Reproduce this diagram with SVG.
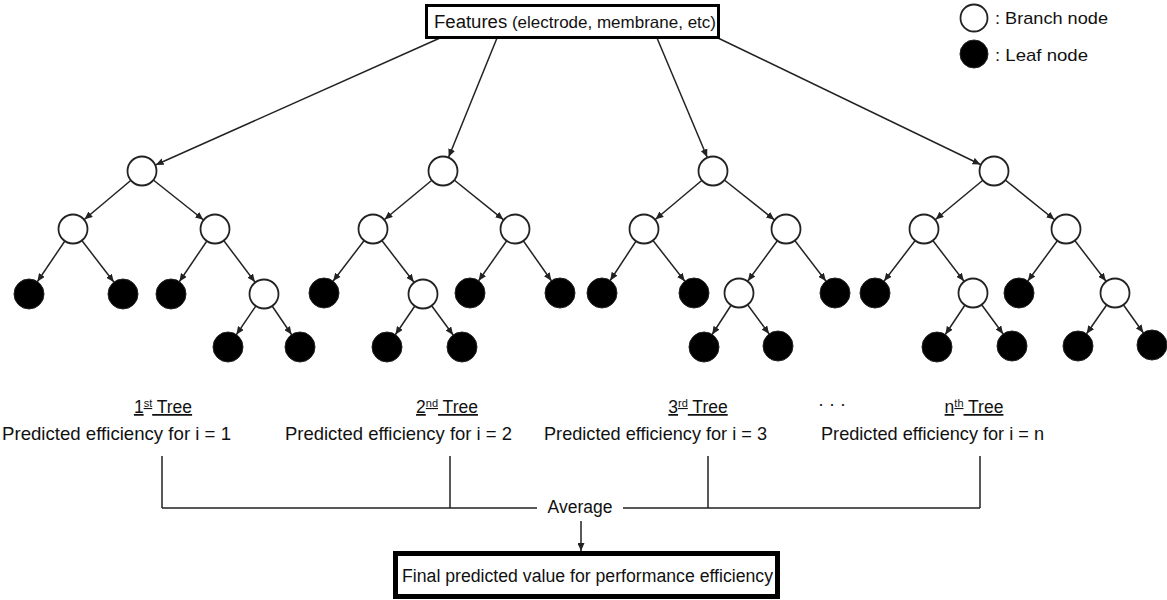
<svg xmlns="http://www.w3.org/2000/svg" width="1167" height="600" viewBox="0 0 1167 600">
<defs>
<style>
.br{fill:#fff;stroke:#222;stroke-width:1.8}
.lf{fill:#000;stroke:#222;stroke-width:1}
.c{stroke:#222;stroke-width:1.5;fill:none;marker-end:url(#ah)}
.p{stroke:#222;stroke-width:1.5;fill:none}
.t{font-family:"Liberation Sans",Arial,sans-serif;fill:#111}
.box{fill:#fff;stroke:#000}
</style>
<marker id="ah" markerUnits="userSpaceOnUse" markerWidth="9" markerHeight="7" refX="23" refY="3.5" orient="auto">
<path d="M0,0 L8,3.5 L0,7 z" fill="#222"/>
</marker>
<marker id="ah0" markerUnits="userSpaceOnUse" markerWidth="9" markerHeight="7" refX="8" refY="3.5" orient="auto">
<path d="M0,0 L8,3.5 L0,7 z" fill="#222"/>
</marker>
</defs>
<rect width="1167" height="600" fill="#fff"/>

<g id="connectors">
<line class="c" x1="440" y1="38" x2="142" y2="171"/>
<line class="c" x1="497" y1="38" x2="443" y2="171"/>
<line class="c" x1="657" y1="38" x2="713" y2="171"/>
<line class="c" x1="718" y1="38" x2="994" y2="171"/>
<!-- tree 1 -->
<line class="c" x1="142" y1="171" x2="73" y2="229"/>
<line class="c" x1="142" y1="171" x2="215" y2="229"/>
<line class="c" x1="73" y1="229" x2="29" y2="294"/>
<line class="c" x1="73" y1="229" x2="123" y2="294"/>
<line class="c" x1="215" y1="229" x2="171" y2="294"/>
<line class="c" x1="215" y1="229" x2="264" y2="294"/>
<line class="c" x1="264" y1="294" x2="228" y2="347"/>
<line class="c" x1="264" y1="294" x2="300" y2="347"/>
<!-- tree 2 -->
<line class="c" x1="443" y1="171" x2="373" y2="229"/>
<line class="c" x1="443" y1="171" x2="515" y2="229"/>
<line class="c" x1="373" y1="229" x2="324" y2="293"/>
<line class="c" x1="373" y1="229" x2="423" y2="294"/>
<line class="c" x1="515" y1="229" x2="470" y2="293"/>
<line class="c" x1="515" y1="229" x2="560" y2="293"/>
<line class="c" x1="423" y1="294" x2="387" y2="347"/>
<line class="c" x1="423" y1="294" x2="462" y2="347"/>
<!-- tree 3 -->
<line class="c" x1="713" y1="171" x2="644" y2="229"/>
<line class="c" x1="713" y1="171" x2="786" y2="229"/>
<line class="c" x1="644" y1="229" x2="602" y2="293"/>
<line class="c" x1="644" y1="229" x2="694" y2="293"/>
<line class="c" x1="786" y1="229" x2="739" y2="293"/>
<line class="c" x1="786" y1="229" x2="835" y2="293"/>
<line class="c" x1="739" y1="293" x2="704" y2="347"/>
<line class="c" x1="739" y1="293" x2="778" y2="346"/>
<!-- tree 4 -->
<line class="c" x1="994" y1="171" x2="924" y2="229"/>
<line class="c" x1="994" y1="171" x2="1066" y2="229"/>
<line class="c" x1="924" y1="229" x2="875" y2="293"/>
<line class="c" x1="924" y1="229" x2="973" y2="293"/>
<line class="c" x1="1066" y1="229" x2="1019" y2="293"/>
<line class="c" x1="1066" y1="229" x2="1115" y2="293"/>
<line class="c" x1="973" y1="293" x2="937" y2="347"/>
<line class="c" x1="973" y1="293" x2="1012" y2="346"/>
<line class="c" x1="1115" y1="293" x2="1078" y2="346"/>
<line class="c" x1="1115" y1="293" x2="1152" y2="345"/>
<!-- averaging bracket -->
<path class="p" d="M162,456 V508 M450,456 V508 M708,456 V508 M980,456 V508 M162,508 H537 M623,508 H980"/>
<line class="p" x1="581" y1="521" x2="581" y2="551" marker-end="url(#ah0)"/>
</g>

<g id="features">
<rect class="box" x="426.5" y="5.5" width="292" height="32" stroke-width="3"/>
<text class="t" x="434" y="28" font-size="16.5" textLength="282" lengthAdjust="spacingAndGlyphs"><tspan font-size="18">Features</tspan> (electrode, membrane, etc)</text>
</g>

<g id="legend">
<g id="legend-branch"><circle class="br" cx="974" cy="18" r="13.5" stroke-width="2"/>
<text class="t" x="995" y="24" font-size="17" textLength="113" lengthAdjust="spacingAndGlyphs">: Branch node</text></g>
<g id="legend-leaf"><circle class="lf" cx="974" cy="54" r="14"/>
<text class="t" x="995" y="61" font-size="17" textLength="93" lengthAdjust="spacingAndGlyphs">: Leaf node</text></g>
</g>

<!-- tree 1 nodes -->
<g id="t1-root"><circle class="br" cx="142" cy="171" r="14.5"/></g>
<g id="t1-a"><circle class="br" cx="73" cy="229" r="14.5"/></g>
<g id="t1-b"><circle class="br" cx="215" cy="229" r="14.5"/></g>
<g id="t1-a1"><circle class="lf" cx="29" cy="294" r="15"/></g>
<g id="t1-a2"><circle class="lf" cx="123" cy="294" r="15"/></g>
<g id="t1-b1"><circle class="lf" cx="171" cy="294" r="15"/></g>
<g id="t1-b2"><circle class="br" cx="264" cy="294" r="14.5"/></g>
<g id="t1-b2a"><circle class="lf" cx="228" cy="347" r="15"/></g>
<g id="t1-b2b"><circle class="lf" cx="300" cy="347" r="15"/></g>

<!-- tree 2 nodes -->
<g id="t2-root"><circle class="br" cx="443" cy="171" r="14.5"/></g>
<g id="t2-a"><circle class="br" cx="373" cy="229" r="14.5"/></g>
<g id="t2-b"><circle class="br" cx="515" cy="229" r="14.5"/></g>
<g id="t2-a1"><circle class="lf" cx="324" cy="293" r="15"/></g>
<g id="t2-a2"><circle class="br" cx="423" cy="294" r="14.5"/></g>
<g id="t2-b1"><circle class="lf" cx="470" cy="293" r="15"/></g>
<g id="t2-b2"><circle class="lf" cx="560" cy="293" r="15"/></g>
<g id="t2-a2a"><circle class="lf" cx="387" cy="347" r="15"/></g>
<g id="t2-a2b"><circle class="lf" cx="462" cy="347" r="15"/></g>

<!-- tree 3 nodes -->
<g id="t3-root"><circle class="br" cx="713" cy="171" r="14.5"/></g>
<g id="t3-a"><circle class="br" cx="644" cy="229" r="14.5"/></g>
<g id="t3-b"><circle class="br" cx="786" cy="229" r="14.5"/></g>
<g id="t3-a1"><circle class="lf" cx="602" cy="293" r="15"/></g>
<g id="t3-a2"><circle class="lf" cx="694" cy="293" r="15"/></g>
<g id="t3-b1"><circle class="br" cx="739" cy="293" r="14.5"/></g>
<g id="t3-b2"><circle class="lf" cx="835" cy="293" r="15"/></g>
<g id="t3-b1a"><circle class="lf" cx="704" cy="347" r="15"/></g>
<g id="t3-b1b"><circle class="lf" cx="778" cy="346" r="15"/></g>

<!-- tree 4 nodes -->
<g id="t4-root"><circle class="br" cx="994" cy="171" r="14.5"/></g>
<g id="t4-a"><circle class="br" cx="924" cy="229" r="14.5"/></g>
<g id="t4-b"><circle class="br" cx="1066" cy="229" r="14.5"/></g>
<g id="t4-a1"><circle class="lf" cx="875" cy="293" r="15"/></g>
<g id="t4-a2"><circle class="br" cx="973" cy="293" r="14.5"/></g>
<g id="t4-b1"><circle class="lf" cx="1019" cy="293" r="15"/></g>
<g id="t4-b2"><circle class="br" cx="1115" cy="293" r="14.5"/></g>
<g id="t4-a2a"><circle class="lf" cx="937" cy="347" r="15"/></g>
<g id="t4-a2b"><circle class="lf" cx="1012" cy="346" r="15"/></g>
<g id="t4-b2a"><circle class="lf" cx="1078" cy="346" r="15"/></g>
<g id="t4-b2b"><circle class="lf" cx="1152" cy="345" r="15"/></g>

<!-- labels -->
<g id="label-1">
<text class="t" x="163" y="413" font-size="17.5" text-anchor="middle" text-decoration="underline">1<tspan font-size="11" dy="-6">st</tspan><tspan dy="6"> Tree</tspan></text>
<text class="t" x="2" y="440" font-size="18.5" textLength="229" lengthAdjust="spacingAndGlyphs">Predicted efficiency for i = 1</text>
</g>
<g id="label-2">
<text class="t" x="447" y="413" font-size="17.5" text-anchor="middle" text-decoration="underline">2<tspan font-size="11" dy="-6">nd</tspan><tspan dy="6"> Tree</tspan></text>
<text class="t" x="285" y="440" font-size="18.5" textLength="227" lengthAdjust="spacingAndGlyphs">Predicted efficiency for i = 2</text>
</g>
<g id="label-3">
<text class="t" x="698" y="413" font-size="17.5" text-anchor="middle" text-decoration="underline">3<tspan font-size="11" dy="-6">rd</tspan><tspan dy="6"> Tree</tspan></text>
<text class="t" x="544" y="440" font-size="18.5" textLength="223" lengthAdjust="spacingAndGlyphs">Predicted efficiency for i = 3</text>
</g>
<g id="dots"><text class="t" x="832" y="410" font-size="18" text-anchor="middle">·    ·    ·</text></g>
<g id="label-n">
<text class="t" x="974" y="413" font-size="17.5" text-anchor="middle" text-decoration="underline">n<tspan font-size="11" dy="-6">th</tspan><tspan dy="6"> Tree</tspan></text>
<text class="t" x="821" y="440" font-size="18.5" textLength="223" lengthAdjust="spacingAndGlyphs">Predicted efficiency for i = n</text>
</g>

<g id="average"><text class="t" x="580" y="513" font-size="17.5" text-anchor="middle">Average</text></g>

<g id="final">
<rect class="box" x="395.5" y="553.5" width="382" height="43" stroke-width="5"/>
<text class="t" x="402" y="582" font-size="18" textLength="371" lengthAdjust="spacingAndGlyphs">Final predicted value for performance efficiency</text>
</g>
</svg>
